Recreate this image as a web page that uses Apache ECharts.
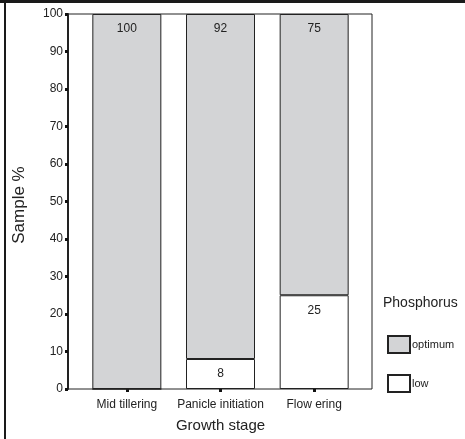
<!DOCTYPE html>
<html>
<head>
<meta charset="utf-8">
<script src="https://cdn.jsdelivr.net/npm/echarts@6/dist/echarts.min.js"></script>
<style>
  html, body { margin: 0; padding: 0; background: #fff; }
  #chart { width: 465px; height: 439px; }
</style>
</head>
<body>
<div id="chart"></div>
<script>
// Growth stages on the x axis
const stages = ['Mid tillering', 'Panicle initiation', 'Flow ering'];
// Share of samples (%) in each phosphorus class
const lowValues = [0, 8, 25];
const optimumValues = [100, 92, 75];
// Legend entries
const legendNames = ['optimum', 'low'];

const FONT = 'Liberation Sans, Arial, sans-serif';
const INK = '#222';
const edge = { borderColor: INK, borderWidth: 1 };

const valueLabel = {
  show: true,
  position: 'insideTop',
  distance: 9,
  color: INK,
  fontFamily: FONT,
  fontSize: 12,
  formatter: p => (p.value > 0 ? String(p.value) : '')
};

const chart = echarts.init(document.getElementById('chart'), null, { renderer: 'canvas' });

chart.setOption({
  animation: false,
  backgroundColor: '#fff',
  textStyle: { fontFamily: FONT, color: INK },
  title: {
    text: 'Phosphorus',
    left: 383,
    top: 296,
    padding: 0,
    textStyle: { fontFamily: FONT, fontSize: 14, fontWeight: 'normal', color: INK }
  },
  legend: {
    data: legendNames,
    orient: 'vertical',
    left: 387,
    top: 335,
    padding: 0,
    itemWidth: 22,
    itemHeight: 17,
    itemGap: 20,
    icon: 'rect',
    textStyle: { fontFamily: FONT, fontSize: 11, color: INK, padding: [0, 0, 0, -3] }
  },
  grid: [
    // outer plot frame
    { left: 68, top: 14, width: 304, height: 375, show: true, borderColor: INK, borderWidth: 1, backgroundColor: 'transparent' },
    // bar area
    { left: 80, top: 14, width: 281, height: 375 }
  ],
  xAxis: [
    { gridIndex: 0, type: 'value', show: false, min: 0, max: 1 },
    {
      gridIndex: 1,
      type: 'category',
      data: stages,
      axisLine: { show: false },
      axisTick: { show: true, alignWithLabel: true, length: 3, lineStyle: { color: '#111', width: 3 } },
      axisLabel: { interval: 0, color: INK, fontFamily: FONT, fontSize: 12, margin: 10 },
      name: 'Growth stage',
      nameLocation: 'middle',
      nameGap: 29,
      nameTextStyle: { fontFamily: FONT, fontSize: 15, color: INK }
    }
  ],
  yAxis: [
    { gridIndex: 0, type: 'value', show: false, min: 0, max: 100 },
    {
      gridIndex: 1,
      type: 'value',
      min: 0,
      max: 100,
      interval: 10,
      offset: 12,
      splitLine: { show: false },
      axisLine: { show: true, lineStyle: { color: INK, width: 2 } },
      axisTick: { show: true, length: 3, lineStyle: { color: '#111', width: 3 } },
      axisLabel: { color: INK, fontFamily: FONT, fontSize: 12, margin: 5 },
      name: 'Sample %',
      nameLocation: 'middle',
      nameGap: 40,
      nameTextStyle: { fontFamily: FONT, fontSize: 17, color: INK, padding: [0, 7, 0, 0] }
    }
  ],
  series: [
    {
      name: 'low',
      type: 'bar',
      stack: 'phosphorus',
      xAxisIndex: 1,
      yAxisIndex: 1,
      barWidth: 69,
      data: lowValues,
      itemStyle: Object.assign({ color: '#ffffff' }, edge),
      label: valueLabel
    },
    {
      name: 'optimum',
      type: 'bar',
      stack: 'phosphorus',
      xAxisIndex: 1,
      yAxisIndex: 1,
      barWidth: 69,
      data: optimumValues,
      itemStyle: Object.assign({ color: '#d3d4d6' }, edge),
      label: valueLabel
    }
  ],
  graphic: [
    { type: 'line', shape: { x1: 0, y1: 1.5, x2: 465, y2: 1.5 }, style: { stroke: '#1a1a1a', lineWidth: 3 } },
    { type: 'line', shape: { x1: 5, y1: 0, x2: 5, y2: 439 }, style: { stroke: '#1a1a1a', lineWidth: 2 } }
  ]
});
</script>
</body>
</html>
